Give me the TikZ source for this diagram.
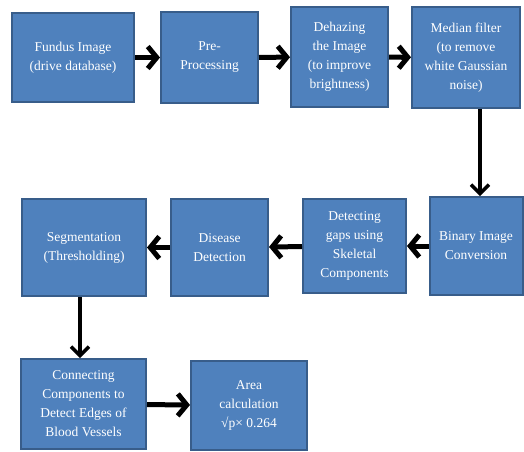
\documentclass[tikz,border=0pt]{standalone}
\usepackage{fontspec}
\setmainfont{Liberation Serif}
\usepackage{xcolor}
\usepackage{tikz}
\usetikzlibrary{positioning, arrows.meta}
\definecolor{boxfill}{HTML}{4F81BD}
\definecolor{boxline}{HTML}{385D8A}

\begin{document}
\begin{tikzpicture}[x=1pt, y=-1pt,
		stage/.style={draw=boxline, fill=boxfill, line width=2pt, text=white, align=center, inner sep=0pt,
			font=\fontsize{13.5}{19}\selectfont},
		flow/.style={line width=5pt, -{Straight Barb[length=9pt, width=22pt]}},
		drop/.style={line width=3.5pt, -{Straight Barb[length=9pt, width=18pt]}}]
		\useasboundingbox (0,0) rectangle (524,451);
		% first row
		\node[stage, minimum width=122pt, minimum height=89pt] (fundus) at (73,57.5) {Fundus Image\\(drive database)};
		\node[stage, minimum width=97pt, minimum height=91pt] (preproc) at (209.5,57.5) {Pre-\\Processing};
		\node[stage, minimum width=97pt, minimum height=100pt] (dehaze) at (339.5,57) {Dehazing\\the Image\\(to improve\\brightness)};
		\node[stage, minimum width=108pt, minimum height=101pt] (median) at (466,57.5) {Median filter\\(to remove\\white Gaussian\\noise)};
		% second row
		\node[stage, minimum width=93pt, minimum height=98pt] (binary) at (476,246) {Binary Image\\Conversion};
		\node[stage, minimum width=103pt, minimum height=94pt] (skeletal) at (354.5,246) {Detecting\\gaps using\\Skeletal\\Components};
		\node[stage, minimum width=97pt, minimum height=97pt] (disease) at (219.5,247.5) {Disease\\Detection};
		\node[stage, minimum width=124pt, minimum height=97pt] (segment) at (84,247.5) {Segmentation\\(Thresholding)};
		% third row
		\node[stage, minimum width=125pt, minimum height=90pt] (connect) at (83.5,404) {Connecting\\Components to\\Detect Edges of\\Blood Vessels};
		\node[stage, minimum width=116pt, minimum height=89pt] (area) at (249,405.5) {Area\\calculation\\√p× 0.264};

		\draw[flow] (fundus) -- (preproc);
		\draw[flow] (preproc) -- (dehaze);
		\draw[flow] (dehaze) -- (median);
		\draw[drop] (median.south -| 480,0) -- (binary.north -| 480,0);
		\draw[flow] (binary) -- (skeletal);
		\draw[flow] (skeletal) -- (disease);
		\draw[flow] (disease) -- (segment);
		\draw[drop] (segment.south -| 80,0) -- (connect.north -| 80,0);
		\draw[flow] (connect) -- (area);
	\end{tikzpicture}
\end{document}
